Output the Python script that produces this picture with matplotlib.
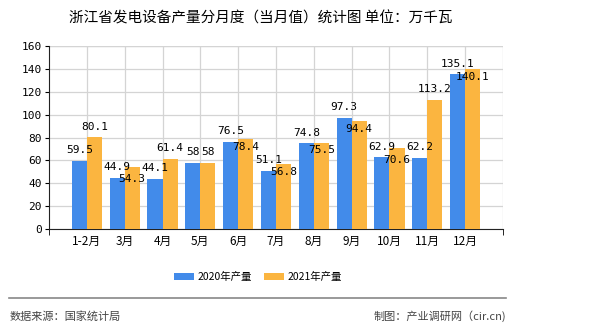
import matplotlib
matplotlib.use("Agg")
import matplotlib.pyplot as plt
import numpy as np

categories = ["1-2月", "3月", "4月", "5月", "6月", "7月", "8月", "9月", "10月", "11月", "12月"]
vals_2020 = [59.5, 44.9, 44.1, 58, 76.5, 51.1, 74.8, 97.3, 62.9, 62.2, 135.1]
vals_2021 = [80.1, 54.3, 61.4, 58, 78.4, 56.8, 75.5, 94.4, 70.6, 113.2, 140.1]
series_names = ["2020年产量", "2021年产量"]
yticks = [0, 20, 40, 60, 80, 100, 120, 140, 160]

title = "浙江省发电设备产量分月度（当月值）统计图 单位：万千瓦"
source = "数据来源：国家统计局"
credit = "制图：产业调研网（cir.cn)"

CJK = ["Noto Sans CJK SC", "DejaVu Sans"]
MONO = ["DejaVu Sans Mono", "Noto Sans CJK SC"]
plt.rcParams["font.family"] = CJK

blue = "#428BEA"
orange = "#FBB540"

fig = plt.figure(figsize=(5.9, 3.3), dpi=100)
ax = fig.add_axes([49 / 590, 1 - 229 / 330, (503 - 49) / 590, (229 - 46) / 330])

x = np.arange(len(categories))
w = 0.40
ax.bar(x - w / 2, vals_2020, width=w, color=blue, label=series_names[0], zorder=3)
ax.bar(x + w / 2, vals_2021, width=w, color=orange, label=series_names[1], zorder=3)

def fmt(v):
    return ("%g" % v)

for i in range(len(categories)):
    a, b = vals_2020[i], vals_2021[i]
    la, lb = fmt(a), fmt(b)
    ax.annotate(la, (x[i] - w / 2, a), xytext=(0, 4), textcoords="offset points",
                ha="center", va="bottom", fontsize=8, family=MONO, zorder=5)
    crowded = abs(b - a) < 12 and (len(la) + len(lb)) > 4
    if crowded:
        dy = -5 if (b - a) > 7 else -2
        ax.annotate(lb, (x[i] + w / 2, b), xytext=(0, dy), textcoords="offset points",
                    ha="center", va="top", fontsize=8, family=MONO, zorder=5)
    else:
        ax.annotate(lb, (x[i] + w / 2, b), xytext=(0, 4), textcoords="offset points",
                    ha="center", va="bottom", fontsize=8, family=MONO, zorder=5)

ax.set_xlim(-1, len(categories))
ax.set_ylim(0, 160)
ax.set_yticks(yticks)
ax.set_yticklabels([str(t) for t in yticks], family=MONO, fontsize=8)
ax.set_xticks(x)
ax.set_xticklabels(categories, fontsize=8.5)
ax.tick_params(axis="x", length=0, pad=4)
ax.tick_params(axis="y", length=3, pad=2, direction="out")
ax.set_xticks([-1, len(categories)], minor=True)
ax.tick_params(axis="x", which="minor", length=4)

ax.grid(True, color="#D4D4D4", linewidth=0.9, zorder=0)
for s in ["top", "right"]:
    ax.spines[s].set_visible(False)
ax.spines["left"].set_color("#222222")
ax.spines["bottom"].set_color("#222222")
ax.axhline(160, color="#D4D4D4", linewidth=0.9, zorder=0)
ax.axvline(len(categories), color="#D4D4D4", linewidth=0.9, zorder=0)

fig.text(261 / 590, 1 - 18 / 330, title, ha="center", va="center", fontsize=10.5)

handles, labels = ax.get_legend_handles_labels()
fig.legend(handles, labels, loc="center", bbox_to_anchor=(258 / 590, 1 - 277 / 330),
           ncol=2, frameon=False, fontsize=7.5, handlelength=1.9, handleheight=0.75,
           columnspacing=1.2, handletextpad=0.35)

fig.add_artist(plt.Line2D([9 / 590, 506 / 590], [1 - 298 / 330, 1 - 298 / 330],
                          color="#888888", linewidth=1.2, transform=fig.transFigure))
fig.text(10 / 590, 1 - 316 / 330, source, ha="left", va="center", fontsize=8, color="#444444")
fig.text(506 / 590, 1 - 316 / 330, credit, ha="right", va="center", fontsize=8, color="#444444")

fig.savefig("out.png", dpi=100)
